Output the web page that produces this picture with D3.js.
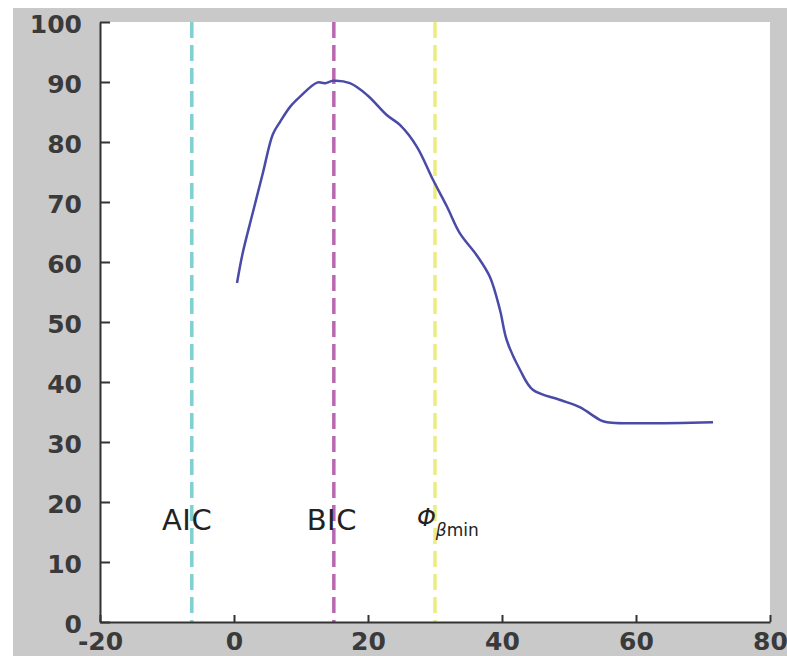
<!DOCTYPE html>
<html>
<head>
<meta charset="utf-8">
<script src="https://cdn.jsdelivr.net/npm/d3@7"></script>
<style>
  body { margin: 0; background: #fff; }
  .tick text { font-family: "DejaVu Sans", sans-serif; font-weight: bold; font-size: 25px; fill: #3a3a3a; }
  .axis path, .axis line { stroke: #333; stroke-width: 2; }
</style>
</head>
<body>
<svg id="chart" width="787" height="656"></svg>
<script>
// curve (x, y)
const curveX = [0.45, 1.3, 2.8, 4.3, 5.8, 6.9, 8.4, 9.9, 12.4, 13.6, 14.8, 17.3, 19.9, 22.8, 24.8, 27.3, 29.7, 31.8, 33.7, 36.3, 38.2, 39.7, 40.7, 42.7, 44.6, 48.7, 51.6, 54.6, 55.7, 71.5];
const curveY = [56.5, 61.5, 68.2, 74.8, 81.3, 83.4, 85.9, 87.6, 89.9, 89.8, 90.2, 89.8, 87.8, 84.5, 82.8, 79.2, 73.7, 69.2, 64.8, 61, 57.5, 52, 47, 42, 38.7, 37, 35.8, 33.7, 33.3, 33.3];

// criteria markers
const markerNames = ['AIC', 'BIC', 'phi'];
const markerX = [-6.3, 14.9, 30];
const markerColors = ['#7fd0d0', '#b868b0', '#ecec80'];

const xTicks = [-20, 0, 20, 40, 60, 80];
const yTicks = [0, 10, 20, 30, 40, 50, 60, 70, 80, 90, 100];

const svg = d3.select('#chart');
const plotLeft = 100, plotRight = 770, plotTop = 22, plotBottom = 622;

// grey frame like the figure window
svg.append('rect').attr('x', 13).attr('y', 8).attr('width', 787 - 13).attr('height', 656 - 8).attr('fill', '#c9c9c9');
svg.append('rect').attr('x', plotLeft).attr('y', plotTop)
  .attr('width', plotRight - plotLeft).attr('height', plotBottom - plotTop).attr('fill', '#fff');

const x = d3.scaleLinear().domain([-20, 80]).range([plotLeft, plotRight]);
const y = d3.scaleLinear().domain([0, 100]).range([plotBottom, plotTop]);

// vertical dashed lines
svg.append('g')
  .selectAll('line')
  .data(markerX)
  .enter()
  .append('line')
  .attr('x1', d => x(d))
  .attr('x2', d => x(d))
  .attr('y1', y(100))
  .attr('y2', y(0))
  .attr('stroke', (d, i) => markerColors[i])
  .attr('stroke-width', 3.5)
  .attr('stroke-dasharray', '16,7');

// curve
const points = curveX.map((d, i) => [d, curveY[i]]);
const line = d3.line()
  .x(d => x(d[0]))
  .y(d => y(d[1]))
  .curve(d3.curveCatmullRom);

svg.append('path')
  .datum(points)
  .attr('d', line)
  .attr('fill', 'none')
  .attr('stroke', '#4a4aa8')
  .attr('stroke-width', 2.5);

// labels
const labelFont = '"DejaVu Sans", sans-serif';
svg.append('text')
  .attr('x', x(-7)).attr('y', y(15.3))
  .attr('text-anchor', 'middle')
  .style('font-family', labelFont).style('font-size', '29px').style('letter-spacing', '0.5px')
  .attr('fill', '#222')
  .text('AIC');

svg.append('text')
  .attr('x', x(14.6)).attr('y', y(15.3))
  .attr('text-anchor', 'middle')
  .style('font-family', labelFont).style('font-size', '29px').style('letter-spacing', '0.5px')
  .attr('fill', '#222')
  .text('BIC');

const phi = svg.append('text')
  .attr('x', x(27.3)).attr('y', y(16))
  .style('font-family', labelFont)
  .attr('fill', '#222');
phi.append('tspan').style('font-size', '24px').style('font-style', 'italic').text('Φ');
phi.append('tspan').attr('dy', 10).style('font-size', '17px').style('font-style', 'italic').text('β');
phi.append('tspan').style('font-size', '17px').text('min');

// axes
svg.append('g')
  .attr('class', 'axis')
  .attr('transform', `translate(${plotLeft},0)`)
  .call(d3.axisLeft(y).tickValues(yTicks).tickSizeInner(-10).tickSizeOuter(0).tickPadding(18))
  .selectAll('.tick text').attr('dy', '0.42em');

svg.append('g')
  .attr('class', 'axis')
  .attr('transform', `translate(0,${plotBottom})`)
  .call(d3.axisBottom(x).tickValues(xTicks).tickFormat(d => String(d))
    .tickSizeInner(-7).tickSizeOuter(0).tickPadding(10));
</script>
</body>
</html>
